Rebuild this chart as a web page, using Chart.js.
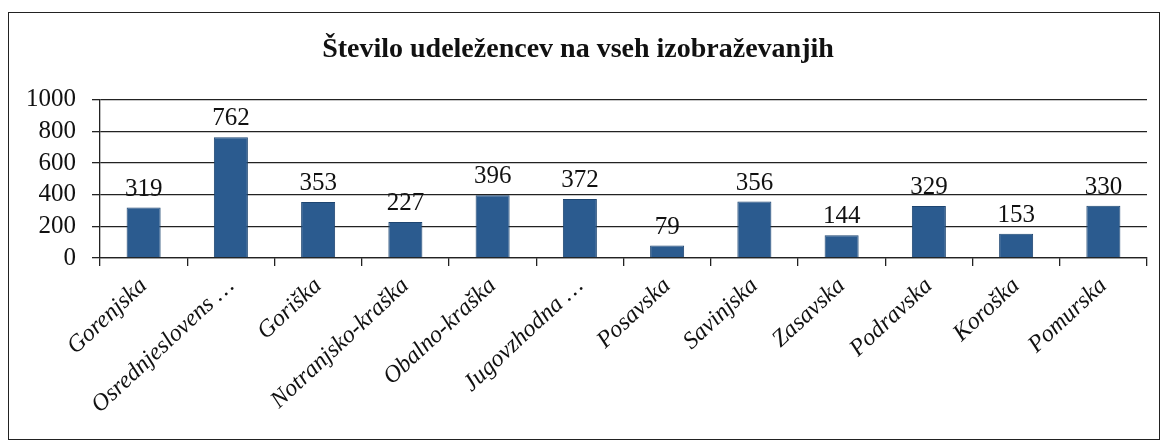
<!DOCTYPE html>
<html>
<head>
<meta charset="utf-8">
<script src="https://cdn.jsdelivr.net/npm/chart.js@4/dist/chart.umd.min.js"></script>
<style>
  html, body { margin: 0; padding: 0; background: #fff; }
  #wrap { position: absolute; left: 8px; top: 12px; width: 1150px; height: 426px; border: 1px solid #222; }
  canvas { display: block; }
</style>
</head>
<body>
<div id="wrap"><canvas id="chart" width="1150" height="426"></canvas></div>
<script>
// =========================
// Data
// =========================
const regions = ['Gorenjska', 'Osrednjeslovens …', 'Goriška', 'Notranjsko-kraška', 'Obalno-kraška',
    'Jugovzhodna …', 'Posavska', 'Savinjska', 'Zasavska', 'Podravska', 'Koroška', 'Pomurska'];
const participants = [319, 762, 353, 227, 396, 372, 79, 356, 144, 329, 153, 330];
const yTicks = [0, 200, 400, 600, 800, 1000];

const serif = '"Liberation Serif", "Times New Roman", serif';

// draws the number above each bar
const valueLabels = {
    id: 'valueLabels',
    afterDatasetsDraw(chart) {
        const ctx = chart.ctx;
        const meta = chart.getDatasetMeta(0);
        ctx.save();
        ctx.font = '25px ' + serif;
        ctx.fillStyle = '#111';
        ctx.textAlign = 'center';
        ctx.textBaseline = 'bottom';
        meta.data.forEach((bar, i) => {
            ctx.fillText(String(participants[i]), bar.x, bar.y - 6);
        });
        ctx.restore();
    }
};

const ctx = document.getElementById('chart').getContext('2d');
new Chart(ctx, {
    type: 'bar',
    data: {
        labels: regions,
        datasets: [{
            label: 'Število udeležencev',
            data: participants,
            backgroundColor: '#2b5b8f',
            borderColor: '#1d4571',
            borderWidth: 1,
            barPercentage: 0.39,
            categoryPercentage: 1
        }]
    },
    options: {
        responsive: false,
        animation: false,
        layout: { padding: { left: 0, right: 12, top: 0, bottom: 0 } },
        plugins: {
            legend: { display: false },
            tooltip: { enabled: false },
            title: {
                display: true,
                text: 'Število udeležencev na vseh izobraževanjih',
                color: '#111',
                font: { family: serif, size: 28, weight: 'bold' },
                padding: { top: 20, bottom: 33 }
            }
        },
        scales: {
            y: {
                min: 0,
                max: 1000,
                afterBuildTicks: axis => { axis.ticks = yTicks.map(v => ({ value: v })); },
                afterFit: axis => { axis.width = 91; },
                ticks: {
                    color: '#111',
                    font: { family: serif, size: 25, lineHeight: 1 },
                    padding: 16,
                    autoSkip: false,
                    callback: v => String(v)
                },
                grid: { color: '#222', lineWidth: 1.3, tickLength: 8 },
                border: { color: '#222', width: 1.3 }
            },
            x: {
                afterFit: axis => { axis.height = 181; },
                ticks: {
                    color: '#111',
                    font: { family: serif, size: 24, style: 'italic' },
                    minRotation: 43,
                    maxRotation: 43,
                    autoSkip: false,
                    padding: 6
                },
                grid: { drawOnChartArea: false, color: '#222', lineWidth: 1.3, tickLength: 8 },
                border: { color: '#222', width: 1.3 }
            }
        }
    },
    plugins: [valueLabels]
});
</script>
</body>
</html>
